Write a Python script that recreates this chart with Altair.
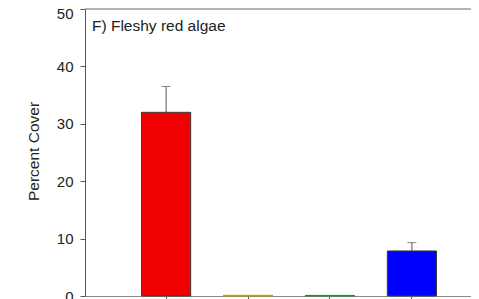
import altair as alt
import pandas as pd

groups = ["G1", "G2", "G3", "G4"]
cover = [32.0, 0.12, 0.1, 7.85]
se = [4.5, 0.0, 0.0, 1.45]
fills = ["#f00000", "#b8a400", "#129012", "#0000ff"]
edges = ["#3a3a3a", "#b8a400", "#129012", "#3a3a3a"]
y_ticks = [0, 10, 20, 30, 40, 50]
panel_label = "F) Fleshy red algae"

df = pd.DataFrame({"group": groups, "cover": cover, "se": se,
                   "fill": fills, "edge": edges})
df["upper"] = df["cover"] + df["se"]

FONT = "Liberation Sans"
yscale = alt.Scale(domain=[0, 50], nice=False)

x = alt.X("group:N", sort=groups,
          scale=alt.Scale(range=[0, 408], paddingInner=0.4, paddingOuter=0.69),
          axis=alt.Axis(title=None, labels=False, tickSize=4, tickColor="#555",
                        domainColor="#888", grid=False))
y_axis = alt.Axis(values=y_ticks, grid=False, tickSize=5, labelPadding=7,
                  labelFontSize=15, labelColor="#222", labelFont=FONT,
                  labelOffset={"condition": {"test": "datum.value == 50", "value": 4}, "value": 0},
                  title="Percent Cover", titleFontSize=15.5, titleFont=FONT,
                  titleFontWeight="normal", titleColor="#222",
                  titleX=-52, titleY=142, titleBaseline="middle",
                  domainColor="#555", tickColor="#555")
y = alt.Y("cover:Q", scale=yscale, axis=y_axis)

base = alt.Chart(df)

frame = alt.Chart(pd.DataFrame({"v": [50]})).mark_rule(color="#999", strokeWidth=1.5).encode(
    y=alt.Y("v:Q", scale=yscale, axis=y_axis), x=alt.value(0), x2=alt.value(408))
err = base.transform_filter("datum.se > 0").mark_rule(color="#555", strokeWidth=1).encode(
    x=x, y=alt.Y("cover:Q", scale=yscale, axis=y_axis), y2="upper:Q")
cap = base.transform_filter("datum.se > 0").mark_tick(color="#555", size=9, thickness=1,
                                                       orient="horizontal").encode(
    x=x, y=alt.Y("upper:Q", scale=yscale, axis=y_axis))
bars = base.mark_bar(strokeWidth=1).encode(
    x=x, y=y,
    fill=alt.Fill("fill:N", scale=None),
    stroke=alt.Stroke("edge:N", scale=None))

label = alt.Chart(pd.DataFrame({"t": [panel_label]})).mark_text(
    align="left", baseline="alphabetic", fontSize=15.5, font=FONT, color="#222"
).encode(text="t:N", x=alt.value(7), y=alt.value(22))

chart = alt.layer(frame, err, cap, bars, label).properties(
    width=386, height=287,
    background="white",
    autosize=alt.AutoSizeParams(type="none"),
    padding={"left": 77, "top": 1, "right": 0, "bottom": 3},
).configure_view(stroke="white", strokeWidth=0, strokeOpacity=0
).configure_axis(grid=False)

chart.save("out.html", embed_options={"renderer": "svg", "actions": False})
